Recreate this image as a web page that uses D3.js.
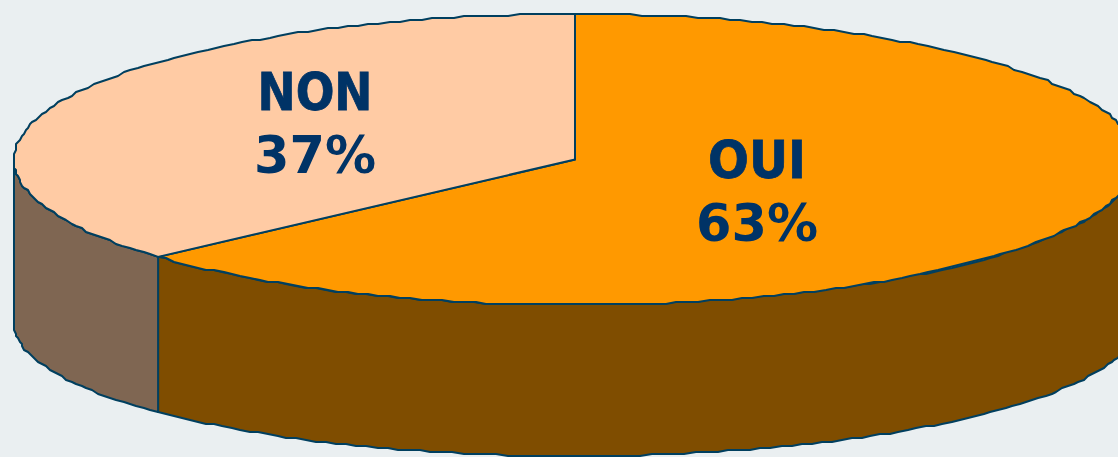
<!DOCTYPE html>
<html>
<head>
<meta charset="utf-8">
<script src="https://cdn.jsdelivr.net/npm/d3@7"></script>
<style>
  html, body { margin: 0; padding: 0; background: #eaeff1; overflow: hidden; }
  svg { display: block; }
  text { font-family: "DejaVu Sans", sans-serif; font-weight: 700; fill: #003366; text-anchor: middle; }
</style>
</head>
<body>
<svg id="chart" width="1118" height="457"></svg>
<script>
// Survey answers
const categories = ["OUI", "NON"];
const shares = [63, 37];

// Top face and base of the tilted disc
const faceEllipse = { cx: 575, cy: 159.5, rx: 561, ry: 145.5 };
const baseEllipse = { cx: 575, cy: 323, rx: 561, ry: 133 };

const topColors = ["#ff9900", "#ffcba4"];
const sideColors = ["#7f4d00", "#7f6652"];
const edge = "#003f5f";

const labelAnchors = [[757, 178], [315, 110]];
const labelStep = 63;
const nameWidths = [98, 115];

const svg = d3.select("#chart");
const slices = d3.pie().sort(null).value(d => d)(shares);

// Lateral foreshortening of the 3D view
const view = a => a + 0.021 * Math.sin(2 * a);

// The outline is a coarse polygon snapped to a small grid
const snap = v => Math.round(v / 2) * 2;
const at = (e, a, snapped) => {
  const x = e.cx + e.rx * Math.sin(a), y = e.cy - e.ry * Math.cos(a);
  return snapped ? [snap(x), snap(y)] : [x, y];
};
const arcPoints = (e, a0, a1) => {
  const n = Math.max(2, Math.ceil(Math.abs(a1 - a0) / 0.02));
  return d3.range(n + 1).map(i => {
    const a = a0 + (a1 - a0) * i / n;
    return at(e, a, i > 0 && i < n);
  });
};
const path = d3.line();
const front = [Math.PI / 2, Math.PI * 1.5];

// Visible wall of each slice, clipped to the front half of the disc
const walls = slices.map((s, i) => {
  const a0 = Math.max(view(s.startAngle), front[0]);
  const a1 = Math.min(view(s.endAngle), front[1]);
  return { i, pts: arcPoints(faceEllipse, a0, a1).concat(arcPoints(baseEllipse, a1, a0)) };
});

svg.selectAll("path.wall").data(walls).join("path")
  .attr("class", "wall")
  .attr("d", d => path(d.pts) + "Z")
  .attr("fill", d => sideColors[d.i])
  .attr("stroke", edge)
  .attr("stroke-width", 2)
  .attr("stroke-linejoin", "round");

// Top face wedges
svg.selectAll("path.face").data(slices).join("path")
  .attr("class", "face")
  .attr("d", s => path([[faceEllipse.cx, faceEllipse.cy]].concat(arcPoints(faceEllipse, view(s.startAngle), view(s.endAngle)))) + "Z")
  .attr("fill", (s, i) => topColors[i])
  .attr("stroke", edge)
  .attr("stroke-width", 2)
  .attr("stroke-linejoin", "round");

// Category name above its share; the narrowed names get a thin outline to keep their weight
const labels = svg.selectAll("g.label").data(slices).join("g")
  .attr("class", "label")
  .attr("transform", (s, i) => `translate(${labelAnchors[i][0]},${labelAnchors[i][1]})`);
labels.append("text").attr("font-size", 51)
  .attr("textLength", (s, i) => nameWidths[i])
  .attr("lengthAdjust", "spacingAndGlyphs")
  .attr("stroke", "#003366")
  .attr("stroke-width", 0.8)
  .text((s, i) => categories[i]);
labels.append("text").attr("font-size", 51).attr("y", labelStep).text(s => s.value + "%");
</script>
</body>
</html>
